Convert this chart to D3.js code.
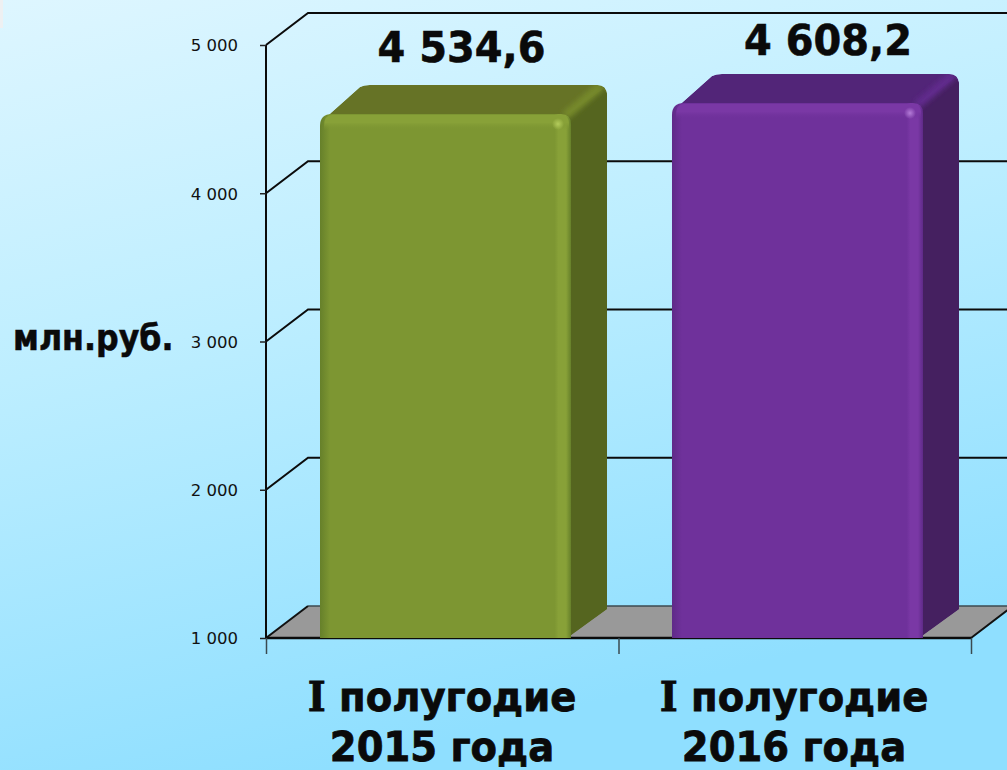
<!DOCTYPE html>
<html>
<head>
<meta charset="utf-8">
<script src="https://cdn.jsdelivr.net/npm/d3@7"></script>
<style>
    html, body { margin: 0; padding: 0; overflow: hidden; }
    svg { display: block; }
</style>
</head>
<body>
<svg id="chart"></svg>
<script>
const categories = ["2015", "2016"];
const categoryFirstLine = ["полугодие", "полугодие"];
const categorySecondLine = ["2015 года", "2016 года"];
const values = [4534.6, 4608.2];
const valueLabels = ["4 534,6", "4 608,2"];
const yTicks = [1000, 2000, 3000, 4000, 5000];
const yTickLabels = ["1 000", "2 000", "3 000", "4 000", "5 000"];
const yTitle = "млн.руб.";

const width = 1007, height = 770;
const depthX = 42, depthY = 32;      // глубина стены
const barDepthX = 36, barDepthY = 29;
const labelShiftX = [16, 30.5];      // подписи значений сдвинуты вручную
const labelShiftY = [52, 48];

const x = d3.scaleBand().domain(categories).range([266, 977]).paddingInner(0.2869).paddingOuter(0.1534);
const y = d3.scaleLinear().domain([1000, 5000]).range([638, 45]);

const svg = d3.select("#chart").attr("width", width).attr("height", height);
const defs = svg.append("defs");

// фон
const bg = defs.append("linearGradient").attr("id", "bg")
    .attr("x1", 0).attr("y1", 0).attr("x2", 0.32).attr("y2", 1);
bg.append("stop").attr("offset", 0).attr("stop-color", "#def6ff");
bg.append("stop").attr("offset", 0.45).attr("stop-color", "#bdeeff");
bg.append("stop").attr("offset", 1).attr("stop-color", "#8fdfff");
svg.append("rect").attr("width", width).attr("height", height).attr("fill", "url(#bg)");
svg.append("rect").attr("width", 3).attr("height", 28).attr("fill", "#eef0f2");

defs.append("filter").attr("id", "soft").attr("x", "-30%").attr("y", "-30%").attr("width", "160%").attr("height", "160%")
    .append("feGaussianBlur").attr("stdDeviation", 2.5);

// пол
const floorY = y(1000);
svg.append("path")
    .attr("d", `M266,${floorY}L${266 + depthX},${floorY - depthY}L${971 + depthX},${floorY - depthY}L971,${floorY}Z`)
    .attr("fill", "#999999");
svg.append("path")
    .attr("d", `M${266 + depthX},${floorY - depthY}L${971 + depthX},${floorY - depthY}`)
    .attr("stroke", "#3c4a50").attr("stroke-width", 1.5).attr("fill", "none");
svg.append("path")
    .attr("d", `M266,${floorY}L${266 + depthX},${floorY - depthY}M971,${floorY}L${971 + depthX},${floorY - depthY}`)
    .attr("stroke", "#111").attr("stroke-width", 2).attr("fill", "none");

// сетка
svg.append("g").selectAll("path").data(yTicks.slice(1)).join("path")
    .attr("d", d => `M266,${y(d)}L${266 + depthX},${y(d) - depthY}L1007,${y(d) - depthY}`)
    .attr("fill", "none").attr("stroke", "#0b0b0b").attr("stroke-width", 2);

// оси
const yAxis = d3.axisLeft(y).tickValues(yTicks).tickSize(6).tickPadding(22)
    .tickFormat((d, i) => yTickLabels[i]);
const yG = svg.append("g").attr("transform", "translate(266,0)").call(yAxis);
yG.select(".domain").attr("stroke", "#0b0b0b").attr("stroke-width", 2).attr("d", `M0,${y(5000)}V${y(1000)}`);
yG.selectAll(".tick line").attr("stroke", "#222").attr("stroke-width", 1.5);
yG.selectAll("text")
    .attr("font-family", "'DejaVu Sans', sans-serif")
    .attr("font-size", 16.5).attr("fill", "#111").attr("dy", "0.36em");

const xEdges = d3.axisBottom(d3.scaleLinear().domain([0, 2]).range([266, 971]))
    .tickValues([0, 1, 2]).tickSize(16).tickFormat("");
const xG = svg.append("g").attr("transform", `translate(0,${floorY})`).call(xEdges);
xG.select(".domain").attr("stroke", "#0b0b0b").attr("stroke-width", 2.5).attr("d", "M266,0H971");
xG.selectAll(".tick line").attr("stroke", "#3a4a50").attr("stroke-width", 1.5);

// столбцы
const barColors = [
    { front: "#7d9632", edge: "#88a138", dim: "#66802a", top: "#667326", side: "#55651f", ridge: "#76892c", hi: "#b4cc5c" },
    { front: "#6f319b", edge: "#7a38a5", dim: "#5f2a88", top: "#522578", side: "#452060", ridge: "#602a8c", hi: "#b47cd8" }
];

barColors.forEach((c, i) => {
    const g = defs.append("linearGradient").attr("id", "front" + i);
    g.append("stop").attr("offset", 0).attr("stop-color", c.dim);
    g.append("stop").attr("offset", 0.04).attr("stop-color", c.front);
    g.append("stop").attr("offset", 0.935).attr("stop-color", c.front);
    g.append("stop").attr("offset", 0.95).attr("stop-color", c.edge);
    g.append("stop").attr("offset", 0.98).attr("stop-color", c.edge);
    g.append("stop").attr("offset", 1).attr("stop-color", c.dim);
    const t = defs.append("linearGradient").attr("id", "cap" + i).attr("x2", 0).attr("y2", 1);
    t.append("stop").attr("offset", 0).attr("stop-color", c.edge);
    t.append("stop").attr("offset", 0.5).attr("stop-color", c.edge);
    t.append("stop").attr("offset", 1).attr("stop-color", c.front).attr("stop-opacity", 0);
    const h = defs.append("radialGradient").attr("id", "hi" + i);
    h.append("stop").attr("offset", 0).attr("stop-color", c.hi);
    h.append("stop").attr("offset", 1).attr("stop-color", c.hi).attr("stop-opacity", 0);
});

const bars = svg.append("g").selectAll("g").data(values).join("g");

bars.each(function (d, i) {
    const g = d3.select(this);
    const x0 = x(categories[i]);
    const x1 = x0 + x.bandwidth();
    const top = y(d);
    const c = barColors[i];
    const r = 10;
    const backY = top - barDepthY;
    const backX = x1 + barDepthX;

    // верхняя и правая грани одним контуром, чтобы угол был скруглён
    const clipId = "shell" + i;
    const shell = `M${x0 + 3},${top + 6}L${x0 + barDepthX + 4},${backY + 2}Q${x0 + barDepthX + 8},${backY} ${x0 + barDepthX + 14},${backY}
        H${backX - r}Q${backX},${backY} ${backX},${backY + r}V${floorY - barDepthY}L${x1 - 4},${floorY}Z`;
    defs.append("clipPath").attr("id", clipId).append("path").attr("d", shell);
    const shellG = g.append("g").attr("clip-path", `url(#${clipId})`);
    shellG.append("path").attr("d", shell).attr("fill", c.top);
    shellG.append("path")
        .attr("d", `M${x1 - 8},${top + 4}L${backX - 4},${backY + 4}L${backX + 4},${backY + 12}V${floorY}H${x1 - 8}Z`)
        .attr("fill", c.side);
    // светлое ребро между верхом и боком
    shellG.append("path")
        .attr("d", `M${x1 - 6},${top + 2}L${backX - 6},${backY + 1}`)
        .attr("stroke", c.ridge).attr("stroke-width", 9).attr("fill", "none").attr("filter", "url(#soft)");

    // передняя грань
    g.append("path")
        .attr("d", `M${x0},${floorY}V${top + r + 2}Q${x0},${top} ${x0 + r + 2},${top}H${x1 - r}Q${x1},${top} ${x1},${top + r}V${floorY}Z`)
        .attr("fill", `url(#front${i})`);
    g.append("path")
        .attr("d", `M${x0 + 4},${top + 16}V${top + r + 2}Q${x0 + 4},${top + 1} ${x0 + r + 2},${top + 1}H${x1 - r}Q${x1 - 2},${top + 1} ${x1 - 2},${top + r}V${top + 16}Z`)
        .attr("fill", `url(#cap${i})`);
    g.append("circle").attr("cx", x1 - 13).attr("cy", top + 10).attr("r", 6).attr("fill", `url(#hi${i})`);
});

// подписи значений
svg.append("g").selectAll("text").data(values).join("text")
    .attr("transform", (d, i) => `translate(${x(categories[i]) + x.bandwidth() / 2 + labelShiftX[i]},${y(d) - labelShiftY[i]}) scale(0.95,1)`)
    .attr("text-anchor", "middle")
    .attr("font-family", "'DejaVu Sans', sans-serif")
    .attr("font-weight", "bold").attr("font-size", 42).attr("fill", "#0a0a0a")
    .attr("stroke", "#0a0a0a").attr("stroke-width", 0.6)
    .text((d, i) => valueLabels[i]);

// подписи категорий
const catText = svg.append("g").selectAll("text").data(categories).join("text")
    .attr("transform", d => `translate(${x(d) + x.bandwidth() / 2 - 3.5},0) scale(0.94,1)`)
    .attr("text-anchor", "middle")
    .attr("font-family", "'DejaVu Sans', sans-serif")
    .attr("font-weight", "bold").attr("font-size", 41).attr("fill", "#0a0a0a")
    .attr("stroke", "#0a0a0a").attr("stroke-width", 0.8);

catText.each(function (d, i) {
    const t = d3.select(this);
    // римская I с засечками, как в оригинале
    t.append("tspan").attr("x", 0).attr("y", 711).attr("font-family", "'DejaVu Serif', serif").text("I");
    t.append("tspan").text(" " + categoryFirstLine[i]);
    t.append("tspan").attr("x", 0).attr("y", 761).text(categorySecondLine[i]);
});

svg.append("text").attr("transform", "translate(13,350) scale(0.88,1)")
    .attr("font-family", "'DejaVu Sans', sans-serif")
    .attr("font-weight", "bold").attr("font-size", 36).attr("fill", "#0a0a0a")
    .attr("stroke", "#0a0a0a").attr("stroke-width", 0.6)
    .text(yTitle);
</script>
</body>
</html>
